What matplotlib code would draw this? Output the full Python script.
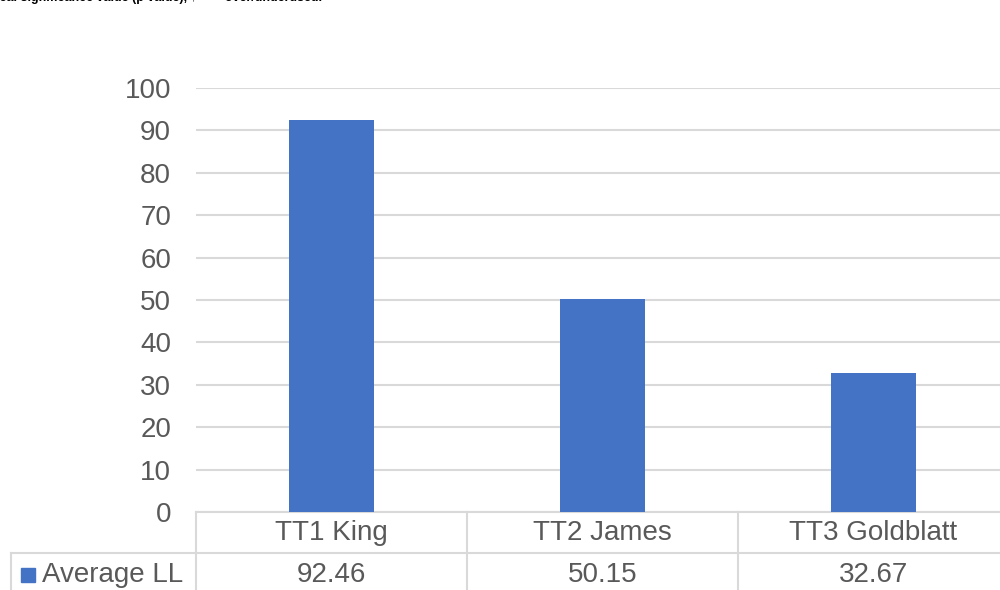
import matplotlib.pyplot as plt
from matplotlib.patches import Rectangle
from matplotlib.lines import Line2D

# data
categories = ["TT1 King", "TT2 James", "TT3 Goldblatt"]
average_ll = [92.46, 50.15, 32.67]
series_name = "Average LL"
yticks = [0, 10, 20, 30, 40, 50, 60, 70, 80, 90, 100]

W, H = 1000, 590
bar_color = "#4472C4"
grid_color = "#D9D9D9"
text_color = "#595959"
plt.rcParams['font.family'] = ['Liberation Sans', 'DejaVu Sans']

fig = plt.figure(figsize=(W / 100, H / 100), dpi=100)

# plot area in pixels: x 196..1009, y 88..512
ax_left, ax_right, ax_top, ax_bottom = 196, 1009, 88, 512
ax = fig.add_axes([ax_left / W, (H - ax_bottom) / H,
                   (ax_right - ax_left) / W, (ax_bottom - ax_top) / H])

x = list(range(len(categories)))
ax.bar(x, average_ll, width=0.31, color=bar_color, zorder=3)
ax.set_xlim(-0.5, len(categories) - 0.5)
ax.set_ylim(0, 100)
ax.set_yticks(yticks)
ax.set_yticklabels([str(t) for t in yticks], fontsize=20, color=text_color)
ax.tick_params(axis='y', length=0, pad=18)
ax.set_xticks([])
ax.grid(axis='y', color=grid_color, linewidth=1.5, zorder=0)
for s in ax.spines.values():
    s.set_visible(False)

# data table under the axis
ph = ax_bottom - ax_top
row1 = -(553 - ax_bottom) / ph
row_end = -(H + 5 - ax_bottom) / ph
tline = dict(color=grid_color, linewidth=1.5, clip_on=False, transform=ax.get_xaxis_transform())
ax.add_line(Line2D([-0.5, len(categories) - 0.5], [0, 0], **tline))
for b in [i - 0.5 for i in range(len(categories) + 1)]:
    ax.add_line(Line2D([b, b], [0, row_end], **tline))
ax.add_line(Line2D([-0.5, len(categories) - 0.5], [row1, row1], **tline))

# legend cell to the left of the plot
fig.add_artist(Line2D([11 / W, ax_left / W], [(H - 553) / H] * 2, color=grid_color, linewidth=1.5))
fig.add_artist(Line2D([11 / W, 11 / W], [(H - 553) / H, 0], color=grid_color, linewidth=1.5))
fig.add_artist(Rectangle((21 / W, (H - 582) / H), 14 / W, 14 / H, color=bar_color))
fig.text(42 / W, (H - 575) / H, series_name, fontsize=20, color=text_color, va='center', ha='left')

cat_y = -(533 - ax_bottom) / ph
val_y = -(575 - ax_bottom) / ph
for xi, cat, val in zip(x, categories, average_ll):
    ax.text(xi, cat_y, cat, ha='center', va='center', fontsize=20, color=text_color,
            transform=ax.get_xaxis_transform(), clip_on=False)
    ax.text(xi, val_y, f"{val:.2f}", ha='center', va='center', fontsize=20,
            color=text_color, transform=ax.get_xaxis_transform(), clip_on=False)

# clipped slide text at the very top
fig.text(-0.004, 1.003, "ical significance value (p value), ↑        over/underused.", fontsize=9,
         fontweight='bold', color='black', ha='left', va='center')

fig.savefig("out.png", dpi=100)
